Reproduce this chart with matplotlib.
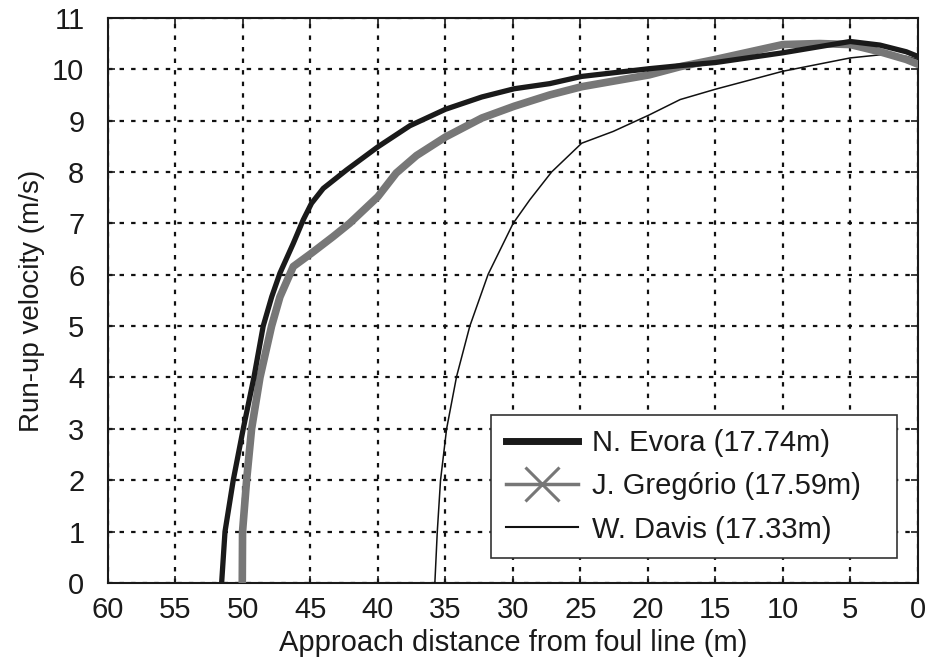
import matplotlib
matplotlib.use("Agg")
import matplotlib.pyplot as plt
from matplotlib.lines import Line2D

plt.rcParams['font.family'] = ['Liberation Sans', 'DejaVu Sans']

# ---- data (distance from foul line in m, velocity in m/s) ----
evora_d = [51.58, 51.33, 50.72, 49.98, 49.19, 48.5, 47.87, 47.26, 46.27, 45.53, 44.92,
           44.05, 42.32, 40.0, 37.63, 35.0, 32.3, 29.9, 27.26, 24.9, 19.9, 17.6, 15,
           10, 5, 2.8, 0.85, 0]
evora_v = [0, 1, 2, 3, 4, 5, 5.57, 6.03, 6.61, 7.07, 7.39,
           7.68, 8.04, 8.49, 8.9, 9.22, 9.46, 9.62, 9.72, 9.86, 10.01, 10.07, 10.13,
           10.32, 10.54, 10.47, 10.34, 10.25]

gregorio_d = [50.05, 50.03, 49.73, 49.36, 48.74, 47.88, 47.26, 46.27, 44.92, 43.33, 42.1,
              40.0, 38.64, 37.14, 35.0, 32.3, 29.9, 27.26, 24.9, 19.9, 17.6, 15, 10,
              7.26, 5, 2.8, 0.85, 0]
gregorio_v = [0, 1, 2, 3, 4, 5, 5.57, 6.16, 6.42, 6.74, 7.0,
              7.52, 7.98, 8.32, 8.68, 9.05, 9.28, 9.5, 9.66, 9.89, 10.05, 10.19, 10.48,
              10.5, 10.48, 10.34, 10.19, 10.1]

davis_d = [35.78, 35.6, 35.36, 34.91, 34.17, 33.19, 31.83, 29.98, 28.74, 27.13, 24.9,
           22.56, 19.9, 17.6, 15, 10, 5, 2.8, 0.85, 0]
davis_v = [0, 1, 2, 3, 4.02, 5.0, 6.01, 7.0, 7.46, 8.0, 8.56,
           8.79, 9.11, 9.41, 9.61, 9.96, 10.22, 10.28, 10.25, 10.19]

labels = ['N. Evora (17.74m)', 'J. Gregório (17.59m)', 'W. Davis (17.33m)']
x_ticks = [60, 55, 50, 45, 40, 35, 30, 25, 20, 15, 10, 5, 0]
y_ticks = list(range(0, 12))

FS = 21

fig = plt.figure(figsize=(9.27, 6.61), dpi=100)
ax = fig.add_axes([0.1165, 0.118, 0.8735, 0.855])

gray = '#777777'
ax.plot(davis_d, davis_v, color='#111111', lw=1.1, zorder=3)
ax.plot(gregorio_d, gregorio_v, color=gray, lw=5.5, zorder=4)
ax.plot(evora_d, evora_v, color='#1a1a1a', lw=3.8, zorder=5)

ax.set_xlim(60, 0)
ax.set_ylim(0, 11)
ax.set_xticks(x_ticks)
ax.set_yticks(y_ticks)
ax.grid(True, color='#111111', linestyle=(0, (2, 3.2)), lw=1.6)
ax.set_axisbelow(True)
ax.tick_params(direction='in', top=True, right=True, length=5, width=1.2,
               labelsize=FS, colors='#1a1a1a')
ax.tick_params(axis='x', pad=9)
ax.tick_params(axis='y', pad=17)
for s in ax.spines.values():
    s.set_linewidth(1.5)
    s.set_color('#1a1a1a')

ax.set_xlabel('Approach distance from foul line (m)', fontsize=FS, color='#1a1a1a', labelpad=4)
ax.set_ylabel('Run-up velocity (m/s)', fontsize=20, color='#1a1a1a', labelpad=5)

handles = [
    Line2D([], [], color='#1a1a1a', lw=5),
    Line2D([], [], color=gray, lw=2.5, marker='x', markersize=24, markeredgewidth=2.2),
    Line2D([], [], color='#111111', lw=1.5),
]
leg = ax.legend(handles, labels, loc='lower left', bbox_to_anchor=(0.473, 0.044, 0.502, 0.25),
                mode='expand', borderaxespad=0, fontsize=FS, frameon=True, fancybox=False,
                framealpha=1, edgecolor='#333333', handlelength=2.5, handletextpad=0.45,
                labelspacing=0.52, borderpad=0.5)
leg.get_frame().set_linewidth(1.2)
for t in leg.get_texts():
    t.set_color('#1a1a1a')

fig.savefig('out.png', dpi=100)
